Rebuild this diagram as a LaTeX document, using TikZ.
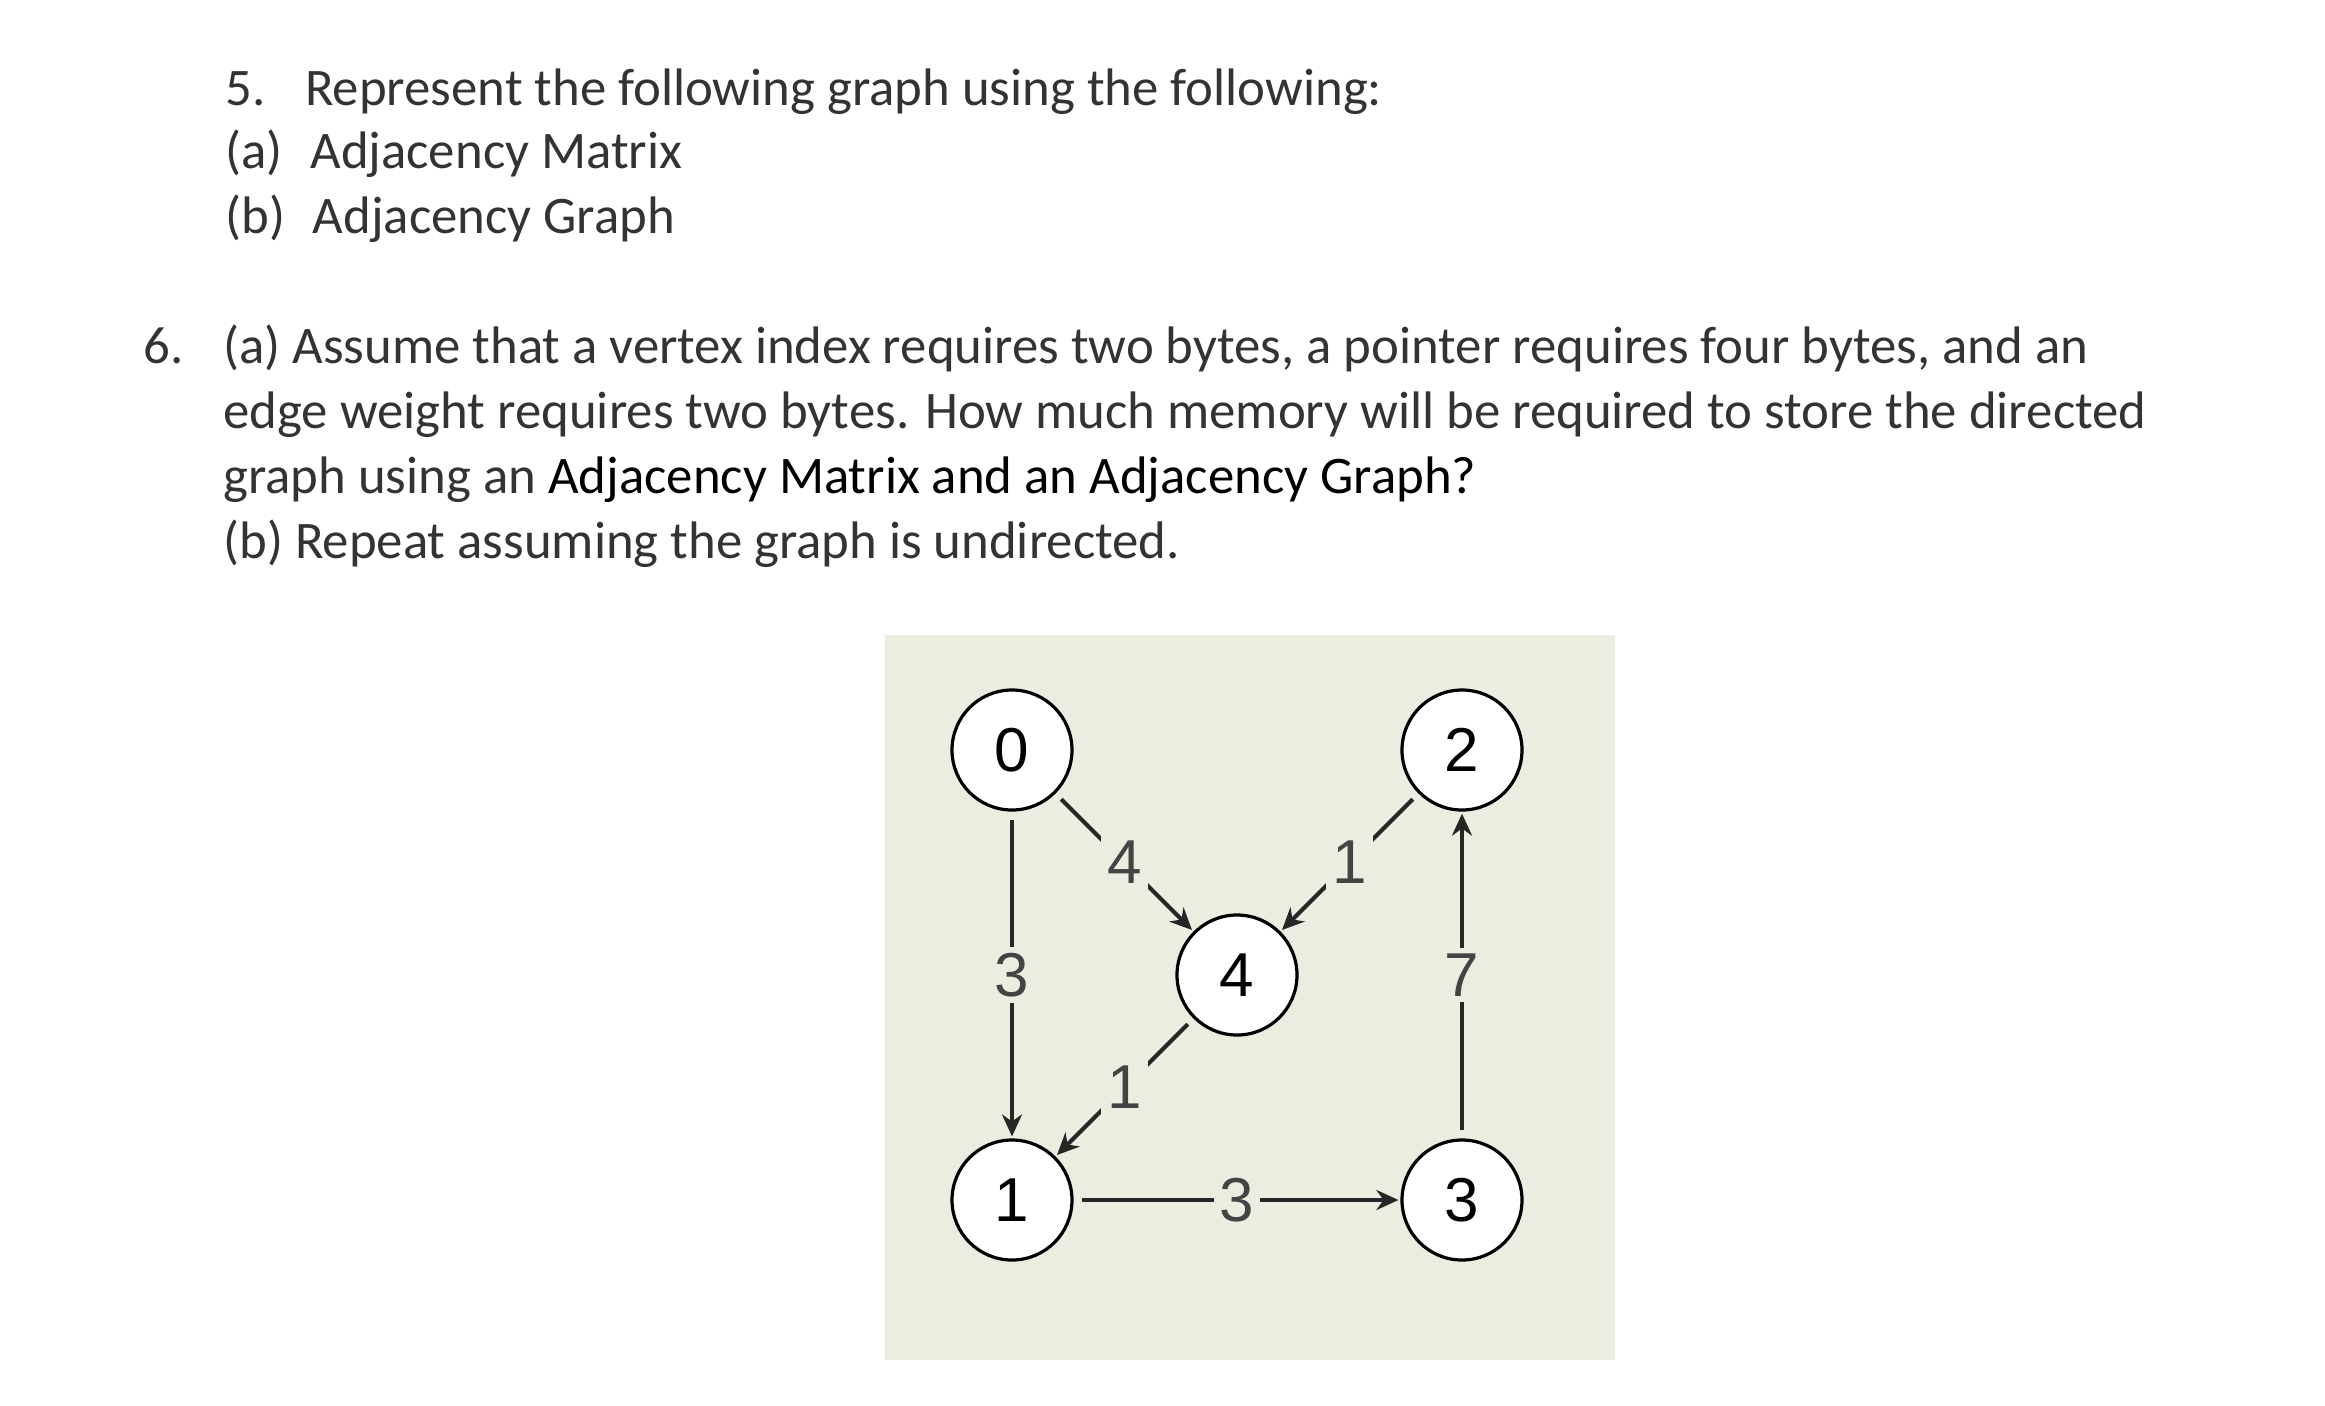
\documentclass[tikz,border=0pt]{standalone}
\usepackage{fontspec}
\usetikzlibrary{arrows.meta}
\setmainfont{Carlito}
\newfontfamily\helv{Liberation Sans}
\definecolor{txtgray}{HTML}{333333}
\definecolor{panel}{HTML}{ECECE0}
\definecolor{lblgray}{HTML}{444444}
\begin{document}
\begin{tikzpicture}[x=0.5pt,y=-0.5pt,
  qtext/.style={anchor=base west,inner sep=0pt,text=txtgray,font=\fontsize{26.4}{30}\selectfont},
  vert/.style={circle,draw=black,line width=1.6pt,fill=white,minimum size=60pt,inner sep=0pt,font=\helv\fontsize{31}{31}\selectfont},
  edge/.style={line width=2pt,draw=black!85,-{Stealth[length=11pt,width=10pt]},shorten >=1pt,shorten <=4pt},
  wlbl/.style={midway,fill=panel,inner sep=3pt,text=lblgray,font=\helv\fontsize{31}{31}\selectfont}]
\useasboundingbox (0,0) rectangle (2325,1405);
\node[qtext] (l1) at (225,105) {5.\hspace{0.75em}Represent the following graph using the following:};
\node[qtext] (l2) at (225,168) {(a)\hspace{0.3em} Adjacency Matrix};
\node[qtext] (l3) at (225,233) {(b)\hspace{0.3em} Adjacency Graph};
\node[qtext] (m0) at (143,363) {6.};
\node[qtext] (m1) at (223,363) {(a) Assume that a vertex index requires two bytes, a pointer requires four bytes, and an};
\node[qtext] (m2) at (223,428) {edge weight requires two bytes. How much memory will be required to store the directed};
\node[qtext] (m3) at (223,493) {graph using an \textcolor{black}{Adjacency Matrix and an Adjacency Graph?}};
\node[qtext] (m4) at (223,558) {(b) Repeat assuming the graph is undirected.};
\fill[panel] (885,635) rectangle (1615,1360);
\node[vert] (v0) at (1012,750) {0};
\node[vert] (v2) at (1462,750) {2};
\node[vert] (v4) at (1237,975) {4};
\node[vert] (v1) at (1012,1200) {1};
\node[vert] (v3) at (1462,1200) {3};
\draw[edge] (v0) -- node[wlbl]{3} (v1);
\draw[edge] (v0) -- node[wlbl]{4} (v4);
\draw[edge] (v2) -- node[wlbl]{1} (v4);
\draw[edge] (v4) -- node[wlbl]{1} (v1);
\draw[edge] (v1) -- node[wlbl]{3} (v3);
\draw[edge] (v3) -- node[wlbl]{7} (v2);
\end{tikzpicture}
\end{document}
